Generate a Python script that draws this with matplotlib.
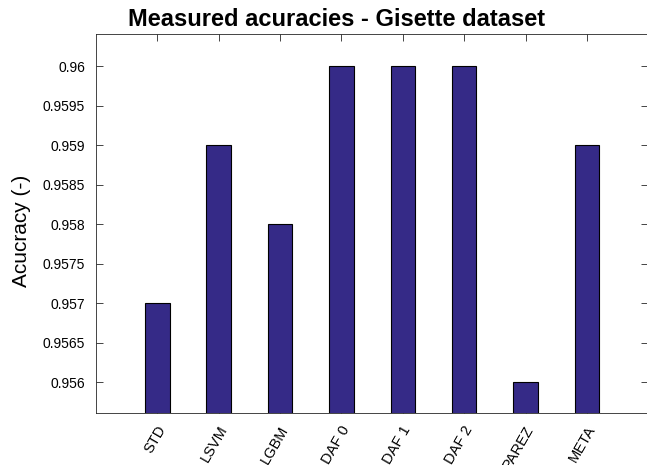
import matplotlib
matplotlib.use('Agg')
import matplotlib.pyplot as plt
import matplotlib.transforms as mtransforms
import numpy as np

# Data
methods = ['STD', 'LSVM', 'LGBM', 'DAF 0', 'DAF 1', 'DAF 2', 'PAREZ', 'META']
accuracy = [0.957, 0.959, 0.958, 0.960, 0.960, 0.960, 0.956, 0.959]
y_ticks = [0.956, 0.9565, 0.957, 0.9575, 0.958, 0.9585, 0.959, 0.9595, 0.96]

plt.rcParams['font.family'] = ['Liberation Sans', 'DejaVu Sans']

fig = plt.figure(figsize=(6.47, 4.65), dpi=100)
ax = fig.add_axes([96 / 647, 1 - 413 / 465, 1.002 - 96 / 647, (413 - 34) / 465])

pos = np.arange(1, len(methods) + 1)
ax.bar(pos, accuracy, width=0.4, color='#352a87', edgecolor='black', linewidth=0.8, zorder=2)

ax.set_xlim(0, 9)
ax.set_ylim(0.95561, 0.96041)
ax.set_xticks(pos)
ax.set_xticklabels(methods, rotation=60, ha='right', va='center',
                   rotation_mode='anchor', fontsize=10.5)
ax.set_yticks(y_ticks)
ax.set_yticklabels(['%g' % t for t in y_ticks], fontsize=10)

ax.tick_params(direction='in', length=5, width=0.6, color='#262626',
               top=True, right=True)
ax.tick_params(axis='y', pad=8)
ax.tick_params(axis='x', pad=10)
for s in ax.spines.values():
    s.set_color('#262626')
    s.set_linewidth(0.6)

# nudge rotated labels a bit to the right, like the original
offset = mtransforms.ScaledTranslation(5 / 100, 0, fig.dpi_scale_trans)
for lab in ax.get_xticklabels():
    lab.set_transform(lab.get_transform() + offset)

ax.set_ylabel('Acucracy (-)', fontsize=15)
ax.yaxis.set_label_coords((31 - 96) / 551, (413 - 231) / 379)
ax.set_title('Measured acuracies - Gisette dataset', fontsize=17, fontweight='bold', pad=5.5,
             x=(336 - 96) / 551)

fig.savefig('out.png', dpi=100)
